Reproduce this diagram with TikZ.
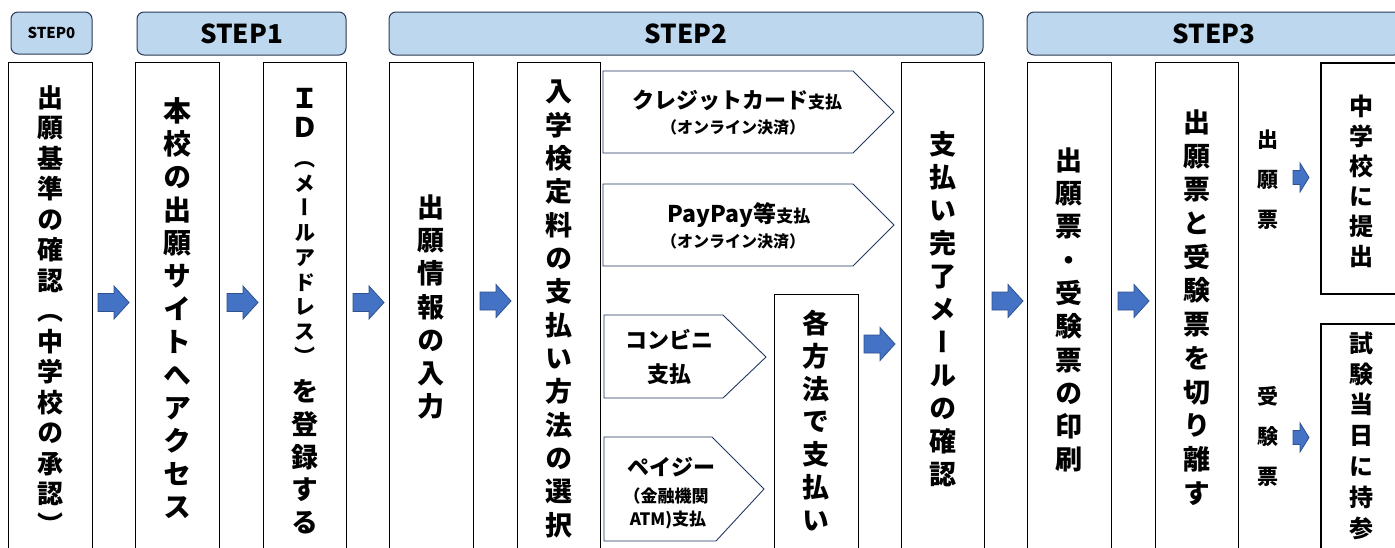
\documentclass[tikz,border=0pt]{standalone}
\usepackage{fontspec}
\setmainfont{Noto Sans CJK JP}
\newfontfamily\jpv[RawFeature=+vert]{Noto Sans CJK JP}
\definecolor{hdrfill}{HTML}{BDD7EE}
\definecolor{hdrline}{HTML}{2B3A55}
\definecolor{pentline}{HTML}{203864}
\definecolor{arrfill}{HTML}{4472C4}
\definecolor{arrline}{HTML}{2F528F}
\newcommand\fs[2]{\fontsize{#1}{#2}\selectfont}
\begin{document}
\begin{tikzpicture}[x=1pt,y=-1pt,
  col/.style={draw=black, line width=1.1pt, fill=white, inner sep=0pt},
  thickcol/.style={draw=black, line width=1.8pt, fill=white, inner sep=0pt},
  hdr/.style={draw=hdrline, fill=hdrfill, rounded corners=7pt, line width=1pt, inner sep=0pt},
  penta/.style={draw=pentline, fill=white, line width=0.9pt},
  vt/.style={align=center, inner sep=0pt},
  ht/.style={align=center, inner sep=0pt},
  arr/.style={draw=arrline, fill=arrfill, line width=0.8pt},
  bigarrow/.pic={\path[arr] (0,-9) -- (16,-9) -- (16,-16.5) -- (31,0) -- (16,16.5) -- (16,9) -- (0,9) -- cycle;},
  smallarrow/.pic={\path[arr] (0,-7) -- (7,-7) -- (7,-14.5) -- (16,0) -- (7,14.5) -- (7,7) -- (0,7) -- cycle;}
]
\useasboundingbox (0,0) rectangle (1395,547);
\fill[white] (0,0) rectangle (1395,547);

% step headers
\node[hdr, minimum width=81pt, minimum height=42pt, font=\bfseries\fs{15}{17}] (s0) at (51.5,33) {STEP0};
\node[hdr, minimum width=209pt, minimum height=43pt, font=\bfseries\fs{26}{28}] (s1) at (241.5,33.5) {STEP1};
\node[hdr, minimum width=594pt, minimum height=43pt, font=\bfseries\fs{26}{28}] (s2) at (686,33.5) {STEP2};
\node[hdr, minimum width=374pt, minimum height=43pt, font=\bfseries\fs{26}{28}] (s3) at (1214,33.5) {STEP3};

% column boxes
\node[col, anchor=north west, minimum width=84pt, minimum height=520pt] (b1) at (8,62) {};
\node[col, anchor=north west, minimum width=84pt, minimum height=520pt] (b2) at (135,62) {};
\node[col, anchor=north west, minimum width=83pt, minimum height=520pt] (b3) at (263,62) {};
\node[col, anchor=north west, minimum width=84pt, minimum height=520pt] (b4) at (389,62) {};
\node[col, anchor=north west, minimum width=83pt, minimum height=520pt] (b5) at (517,62) {};
\node[col, anchor=north west, minimum width=84pt, minimum height=300pt] (b6) at (774,294) {};
\node[col, anchor=north west, minimum width=83pt, minimum height=520pt] (b7) at (901,62) {};
\node[col, anchor=north west, minimum width=84pt, minimum height=520pt] (b8) at (1027,62) {};
\node[col, anchor=north west, minimum width=83pt, minimum height=520pt] (b9) at (1155,62) {};
\node[thickcol, anchor=north west, minimum width=90pt, minimum height=231pt] (b10) at (1320,62) {};
\node[thickcol, anchor=north west, minimum width=90pt, minimum height=260pt] (b11) at (1320,323) {};

% payment pentagons
\draw[penta] (603,71) coordinate (p1) -- (853,71) -- (894,112) -- (853,153) -- (603,153) -- cycle;
\draw[penta] (603,184) coordinate (p2) -- (853,184) -- (894,225) -- (853,266) -- (603,266) -- cycle;
\draw[penta] (604,315) coordinate (p3) -- (723,315) -- (766,357) -- (723,398) -- (604,398) -- cycle;
\draw[penta] (604,437) coordinate (p4) -- (712,437) -- (764,489) -- (716,541) -- (604,541) -- cycle;

\node[ht] (p1a) at (737,100) {\bfseries\fs{22}{26}クレジットカード\fs{17}{20}支払};
\node[ht] (p1b) at (733,127) {\bfseries\fs{16}{20}（オンライン決済）};
\node[ht] (p2a) at (739,215) {\bfseries\fs{23}{26}PayPay等\fs{17}{20}支払};
\node[ht] (p2b) at (733,241) {\bfseries\fs{16}{20}（オンライン決済）};
\node[ht, font=\bfseries\fs{22}{34}] (p3a) at (669,357) {コンビニ\\支払};
\node[ht] (p4a) at (671,467) {\bfseries\fs{22}{26}ペイジー};
\node[ht] (p4b) at (666,496) {\bfseries\fs{17}{20}（金融機関};
\node[ht] (p4c) at (668,520) {\bfseries\fs{17}{20}ATM)支払};

% vertical texts
\node[vt, font=\jpv\bfseries\fs{26}{30.5}] (t1) at (50,310) {出\\願\\基\\準\\の\\確\\認\\︵\\中\\学\\校\\の\\承\\認\\︶};
\node[vt, font=\jpv\bfseries\fs{28}{33}] (t2) at (177,308) {本\\校\\の\\出\\願\\サ\\イ\\ト\\へ\\ア\\ク\\セ\\ス};
\node[vt, font=\jpv\bfseries\fs{27}{28.5}] (t3a) at (304.5,113) {Ｉ\\Ｄ};
\node[vt, font=\jpv\bfseries\fs{21}{24.75}] (t3b) at (304.5,263) {︵\\メ\\ー\\ル\\ア\\ド\\レ\\ス\\︶};
\node[vt, font=\jpv\bfseries\fs{27}{32.75}] (t3c) at (304.5,457) {を\\登\\録\\す\\る};
\node[vt, font=\jpv\bfseries\fs{27}{33.3}] (t4) at (431,307) {出\\願\\情\\報\\の\\入\\力};
\node[vt, font=\jpv\bfseries\fs{27}{33.35}] (t5) at (558.5,309) {入\\学\\検\\定\\料\\の\\支\\払\\い\\方\\法\\の\\選\\択};
\node[vt, font=\jpv\bfseries\fs{27}{32.8}] (t6) at (816,420.5) {各\\方\\法\\で\\支\\払\\い};
\node[vt, font=\jpv\bfseries\fs{27}{33}] (t7) at (942.5,309) {支\\払\\い\\完\\了\\メ\\ー\\ル\\の\\確\\認};
\node[vt, font=\jpv\bfseries\fs{27}{33.3}] (t8) at (1069,310) {出\\願\\票\\・\\受\\験\\票\\の\\印\\刷};
\node[vt, font=\jpv\bfseries\fs{27}{33.7}] (t9) at (1196.5,307.5) {出\\願\\票\\と\\受\\験\\票\\を\\切\\り\\離\\す};
\node[vt, font=\jpv\bfseries\fs{24}{30}] (t10) at (1361,181) {中\\学\\校\\に\\提\\出};
\node[vt, font=\jpv\bfseries\fs{24}{30.8}] (t11) at (1361,435.5) {試\\験\\当\\日\\に\\持\\参};
\node[vt, font=\jpv\bfseries\fs{21}{40}] (t12) at (1268,180) {出\\願\\票};
\node[vt, font=\jpv\bfseries\fs{21}{40}] (t13) at (1268,436) {受\\験\\票};

% block arrows
\pic (a1) at (98,302.5) {bigarrow};
\pic (a2) at (227,302.5) {bigarrow};
\pic (a3) at (353,302.5) {bigarrow};
\pic (a4) at (480,301) {bigarrow};
\pic (a5) at (864,344) {bigarrow};
\pic (a6) at (992,301) {bigarrow};
\pic (a7) at (1118,301) {bigarrow};
\pic (a8) at (1293,177.5) {smallarrow};
\pic (a9) at (1293,437.5) {smallarrow};
\end{tikzpicture}
\end{document}
